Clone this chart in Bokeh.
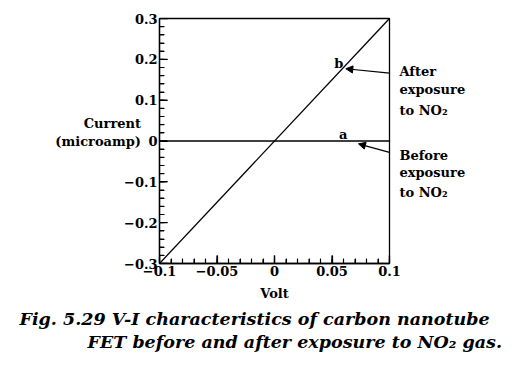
import math
from bokeh.plotting import figure
from bokeh.models import (Range1d, FixedTicker, Label, Arrow, NormalHead, LinearAxis, Title)
from bokeh.embed import file_html
from bokeh.resources import INLINE

# data
volt = [-0.1, 0.1]
current_before = [0.0, 0.0]
current_after = [-0.3, 0.3]
x_ticks = [-0.1, -0.05, 0, 0.05, 0.1]
x_tick_labels = ["\u22120.1", "\u22120.05", "0", "0.05", "0.1"]
y_ticks = [-0.3, -0.2, -0.1, 0, 0.1, 0.2, 0.3]
y_tick_labels = ["\u22120.3", "\u22120.2", "\u22120.1", "0", "0.1", "0.2", "0.3"]
x_minor = [round(-0.1 + 0.01 * i, 3) for i in range(21)]
y_minor = [round(-0.3 + 0.02 * i, 3) for i in range(31)]
note_pos = [0.17, 0.125, 0.075, -0.035, -0.078, -0.127]
note_text = ["After", "exposure", "to NO\u2082", "Before", "exposure", "to NO\u2082"]

FONT = "DejaVu Serif"
X0, Y0 = -0.1, -0.3

p = figure(width=508, height=360, output_backend="svg", toolbar_location=None,
           x_range=Range1d(X0, 0.1), y_range=Range1d(Y0, 0.3),
           x_axis_type=None, y_axis_type=None)
p.min_border_left = 159
p.min_border_right = 119
p.min_border_top = 18
p.min_border_bottom = 97
p.xgrid.visible = False
p.ygrid.visible = False
p.outline_line_color = "black"
p.outline_line_width = 1.3
p.background_fill_color = "white"
p.border_fill_color = "white"

xa = LinearAxis(ticker=FixedTicker(ticks=x_ticks, minor_ticks=x_minor))
xa.major_label_overrides = {t: l for t, l in zip(x_ticks, x_tick_labels)}
ya = LinearAxis(ticker=FixedTicker(ticks=y_ticks, minor_ticks=y_minor))
ya.major_label_overrides = {t: l for t, l in zip(y_ticks, y_tick_labels)}
for ax in (xa, ya):
    ax.major_tick_in = 8
    ax.major_tick_out = 0
    ax.minor_tick_in = 5
    ax.minor_tick_out = 0
    ax.axis_line_color = "black"
    ax.axis_line_width = 1.3
    ax.major_tick_line_color = "black"
    ax.major_tick_line_width = 1.2
    ax.minor_tick_line_color = "black"
    ax.minor_tick_line_width = 1.1
    ax.major_label_text_font = FONT
    ax.major_label_text_font_style = "bold"
    ax.major_label_text_font_size = "13px"
    ax.major_label_text_color = "black"
    ax.axis_label_text_font = FONT
    ax.axis_label_text_font_style = "bold"
    ax.axis_label_text_font_size = "13px"
    ax.axis_label_text_color = "black"
xa.major_label_standoff = 2
ya.major_label_standoff = 2
ya.axis_label = "Current\n(microamp)\n"
ya.axis_label_orientation = "horizontal"
ya.axis_label_standoff = -20
p.add_layout(xa, "below")
p.add_layout(ya, "left")

# inward tick marks: dashes centred on the axis lines, half clipped by the frame
p.scatter(x=x_minor, y=[Y0] * len(x_minor), marker="dash", size=9, angle=math.pi / 2,
          line_color="black", line_width=1.1)
p.scatter(x=x_ticks, y=[Y0] * len(x_ticks), marker="dash", size=16, angle=math.pi / 2,
          line_color="black", line_width=1.3)
p.scatter(x=[X0] * len(y_minor), y=y_minor, marker="dash", size=9,
          line_color="black", line_width=1.1)
p.scatter(x=[X0] * len(y_ticks), y=y_ticks, marker="dash", size=16,
          line_color="black", line_width=1.3)

# right-side notes as an axis without line/ticks
ra = LinearAxis(ticker=FixedTicker(ticks=note_pos, minor_ticks=[]))
ra.major_label_overrides = {t: l for t, l in zip(note_pos, note_text)}
ra.axis_line_color = None
ra.major_tick_line_color = None
ra.minor_tick_line_color = None
ra.major_label_standoff = 4
ra.major_label_text_font = FONT
ra.major_label_text_font_style = "bold"
ra.major_label_text_font_size = "13px"
ra.major_label_text_color = "black"
p.add_layout(ra, "right")

p.line(volt, current_before, line_color="black", line_width=1.3)
p.line(volt, current_after, line_color="black", line_width=1.3)

def lab(x, y, t):
    p.add_layout(Label(x=x, y=y, text=t, text_font=FONT, text_font_style="bold",
                       text_font_size="13px", text_align="left", text_baseline="middle",
                       text_color="black"))

lab(0.052, 0.19, "b")
lab(0.056, 0.015, "a")

p.add_layout(Arrow(end=NormalHead(size=7, fill_color="black", line_color="black"),
                   x_start=0.1, y_start=0.166, x_end=0.062, y_end=0.177,
                   line_color="black", line_width=1.2))
p.add_layout(Arrow(end=NormalHead(size=7, fill_color="black", line_color="black"),
                   x_start=0.1, y_start=-0.028, x_end=0.073, y_end=-0.007,
                   line_color="black", line_width=1.2))

# Volt and caption as titles below
t_volt = Title(text="Volt", align="center", text_font=FONT, text_font_style="bold",
               text_font_size="13px", text_color="black", standoff=10, offset=-8)
p.add_layout(t_volt, "below")
cap1 = Title(text="Fig. 5.29 V-I characteristics of carbon nanotube", align="left",
             offset=-140, text_font=FONT, text_font_style="bold italic",
             text_font_size="17.5px", text_color="black", standoff=2)
p.add_layout(cap1, "below")
cap2 = Title(text="FET before and after exposure to NO\u2082 gas.", align="left",
             offset=-72, text_font=FONT, text_font_style="bold italic",
             text_font_size="17.5px", text_color="black", standoff=0)
p.add_layout(cap2, "below")

open("out.html", "w").write(file_html(p, INLINE))
